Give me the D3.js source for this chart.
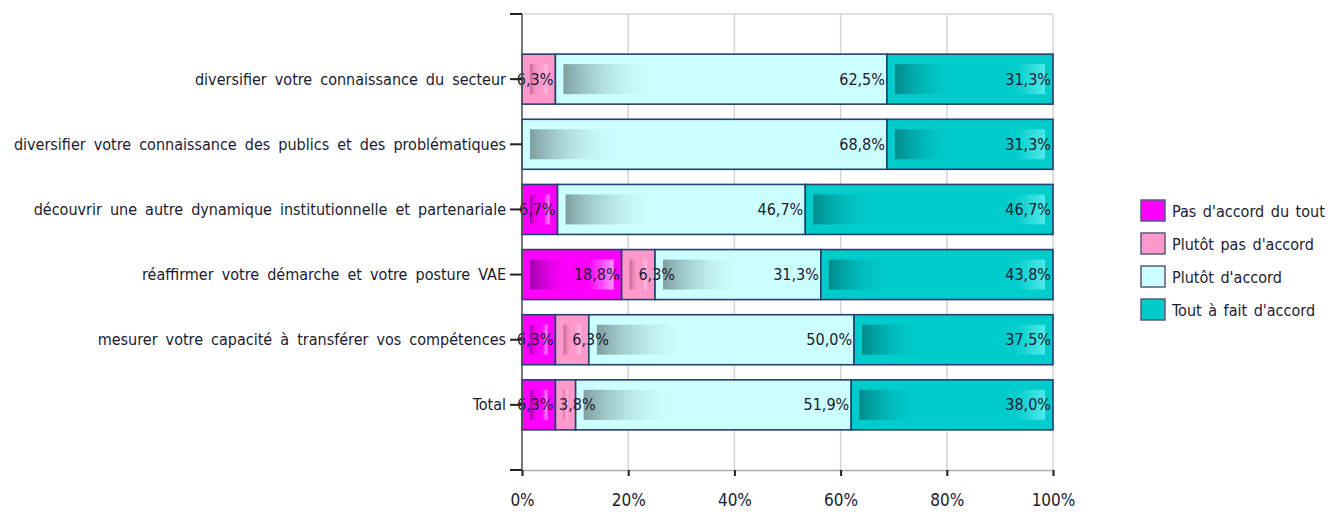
<!DOCTYPE html>
<html>
<head>
<meta charset="utf-8">
<script src="https://cdn.jsdelivr.net/npm/d3@7"></script>
<style>
  body { margin: 0; background: #fff; }
  svg text { font-family: "DejaVu Sans Condensed", "Liberation Sans Narrow", sans-serif; }
</style>
</head>
<body>
<div id="chart"></div>
<script>
// categories, top to bottom
var categories = [
  "diversifier votre connaissance du secteur",
  "diversifier votre connaissance des publics et des problématiques",
  "découvrir une autre dynamique institutionnelle et partenariale",
  "réaffirmer votre démarche et votre posture VAE",
  "mesurer votre capacité à transférer vos compétences",
  "Total"
];

var seriesNames = ["Pas d'accord du tout", "Plutôt pas d'accord", "Plutôt d'accord", "Tout à fait d'accord"];

// one array per series, in category order (percent)
var pasDuTout    = [0,    0,    6.7,  18.8, 6.3,  6.3];
var plutotPas    = [6.3,  0,    0,    6.3,  6.3,  3.8];
var plutotAccord = [62.5, 68.8, 46.7, 31.3, 50.0, 51.9];
var toutAFait    = [31.3, 31.3, 46.7, 43.8, 37.5, 38.0];

var xTicks = [0, 20, 40, 60, 80, 100];

var colors = ["#ff00ff", "#ff99cc", "#ccffff", "#00cccc"];
var darkShade = ["#a000a8", "#c06890", "#7f9fa0", "#008a8a"];
var lightShade = ["#ff90ff", "#ffc0e0", "#ccffff", "#50e8e8"];

var width = 1331, height = 515;
var margin = {left: 522, right: 278, top: 14, bottom: 45};

var svg = d3.select('#chart').append('svg').attr('width', width).attr('height', height);
var defs = svg.append('defs');

colors.forEach(function (c, i) {
  var gl = defs.append('linearGradient').attr('id', 'dark' + i);
  gl.append('stop').attr('offset', '0%').attr('stop-color', darkShade[i]).attr('stop-opacity', 1);
  gl.append('stop').attr('offset', '100%').attr('stop-color', c).attr('stop-opacity', 0);
  var gr = defs.append('linearGradient').attr('id', 'light' + i);
  gr.append('stop').attr('offset', '0%').attr('stop-color', lightShade[i]).attr('stop-opacity', 0);
  gr.append('stop').attr('offset', '100%').attr('stop-color', lightShade[i]).attr('stop-opacity', 1);
});

var x = d3.scaleLinear().domain([0, 100]).range([margin.left, width - margin.right]);
var y = d3.scalePoint().domain(categories).range([margin.top, height - margin.bottom]).padding(1);
var barH = 50;

// gridlines
svg.append('g').selectAll('line').data(xTicks).enter().append('line')
  .attr('x1', function (d) { return x(d); }).attr('x2', function (d) { return x(d); })
  .attr('y1', margin.top).attr('y2', height - margin.bottom)
  .attr('stroke', '#d4d4d4').attr('stroke-width', 1.5);
svg.append('line').attr('x1', x(0)).attr('x2', x(100))
  .attr('y1', margin.top).attr('y2', margin.top)
  .attr('stroke', '#d4d4d4').attr('stroke-width', 1.5);

// stack rows
var series = [pasDuTout, plutotPas, plutotAccord, toutAFait];
var rows = categories.map(function (cat, ci) {
  var sum = d3.sum(series, function (s) { return s[ci]; });
  var acc = 0;
  var prevShown = false;
  return series.map(function (s, si) {
    var v = s[ci];
    var seg = {cat: cat, si: si, v: v, x0: acc / sum * 100, x1: (acc + v) / sum * 100,
               // small label pushed right when the segment before it already has one
               nudge: (prevShown && v < 10) ? 22 : 0};
    acc += v;
    if (v > 0) prevShown = true;
    return seg;
  });
});
var segs = d3.merge(rows).filter(function (d) { return d.v > 0; });

var g = svg.append('g');
var segG = g.selectAll('g.seg').data(segs).enter().append('g').attr('class', 'seg');

segG.append('rect')
  .attr('x', function (d) { return x(d.x0); })
  .attr('y', function (d) { return y(d.cat) - barH / 2; })
  .attr('width', function (d) { return x(d.x1) - x(d.x0); })
  .attr('height', barH)
  .attr('fill', function (d) { return colors[d.si]; })
  .attr('stroke', '#24406e').attr('stroke-width', 1.6);

// left shading
segG.append('rect')
  .attr('x', function (d) { return x(d.x0) + 8; })
  .attr('y', function (d) { return y(d.cat) - barH / 2 + 10; })
  .attr('width', function (d) {
    var w = x(d.x1) - x(d.x0) - 16;
    return Math.max(0, Math.min(w * 0.55, d.si === 2 ? 95 : 65));
  })
  .attr('height', barH - 20)
  .attr('fill', function (d) { return 'url(#dark' + d.si + ')'; });

// right highlight
segG.filter(function (d) { return d.si !== 2; }).append('rect')
  .attr('x', function (d) {
    var w = x(d.x1) - x(d.x0) - 16;
    return x(d.x1) - 8 - Math.max(0, Math.min(w * 0.3, 30));
  })
  .attr('y', function (d) { return y(d.cat) - barH / 2 + 10; })
  .attr('width', function (d) {
    var w = x(d.x1) - x(d.x0) - 16;
    return Math.max(0, Math.min(w * 0.3, 30));
  })
  .attr('height', barH - 20)
  .attr('fill', function (d) { return 'url(#light' + d.si + ')'; });

var fmt = function (v) { return v.toFixed(1).replace('.', ',') + '%'; };

// labels on top of all segments
svg.append('g').selectAll('text').data(segs).enter().append('text')
  .attr('x', function (d) { return x(d.x1) - 2 + d.nudge; })
  .attr('y', function (d) { return y(d.cat); })
  .attr('dy', '0.35em')
  .attr('text-anchor', 'end')
  .attr('font-size', 16)
  .attr('fill', '#1a1a30')
  .text(function (d) { return fmt(d.v); });

// left axis
var yAxis = svg.append('g');
yAxis.append('line').attr('x1', x(0)).attr('x2', x(0))
  .attr('y1', margin.top).attr('y2', height - margin.bottom)
  .attr('stroke', '#555').attr('stroke-width', 1.5);
var yTickPos = [margin.top].concat(categories.map(function (c) { return y(c); }), [height - margin.bottom]);
yAxis.selectAll('line.tick').data(yTickPos).enter().append('line').attr('class', 'tick')
  .attr('x1', x(0) - 12).attr('x2', x(0))
  .attr('y1', function (d) { return d; }).attr('y2', function (d) { return d; })
  .attr('stroke', '#222').attr('stroke-width', 2);
yAxis.selectAll('text').data(categories).enter().append('text')
  .attr('x', x(0) - 16)
  .attr('y', function (d) { return y(d); })
  .attr('dy', '0.35em')
  .attr('text-anchor', 'end')
  .attr('font-size', 16)
  .attr('word-spacing', 3.5)
  .attr('fill', '#1a1a30')
  .text(function (d) { return d; });

// bottom axis
var xAxis = svg.append('g').attr('transform', 'translate(0,' + (height - margin.bottom) + ')')
  .call(d3.axisBottom(x).tickValues(xTicks).tickSize(6).tickFormat(function (d) { return d + '%'; }));
xAxis.select('.domain').attr('stroke', '#aaa').attr('stroke-width', 1.5);
xAxis.selectAll('.tick line').attr('stroke', '#222').attr('stroke-width', 2);
xAxis.selectAll('.tick text').attr('font-size', 17).attr('fill', '#1a1a30').attr('dy', '1.6em')
  .style('font-family', '"DejaVu Sans Condensed", "Liberation Sans Narrow", sans-serif');

// legend
var legend = svg.append('g').attr('transform', 'translate(1141,200)');
var li = legend.selectAll('g').data(seriesNames).enter().append('g')
  .attr('transform', function (d, i) { return 'translate(0,' + (i * 33) + ')'; });
li.append('rect').attr('width', 24).attr('height', 21)
  .attr('fill', function (d, i) { return colors[i]; })
  .attr('stroke', '#5a5a7a').attr('stroke-width', 1.5);
li.append('text').attr('x', 31).attr('y', 11).attr('dy', '0.35em')
  .attr('font-size', 16).attr('word-spacing', 2).attr('fill', '#1a1a30')
  .text(function (d) { return d; });
</script>
</body>
</html>
